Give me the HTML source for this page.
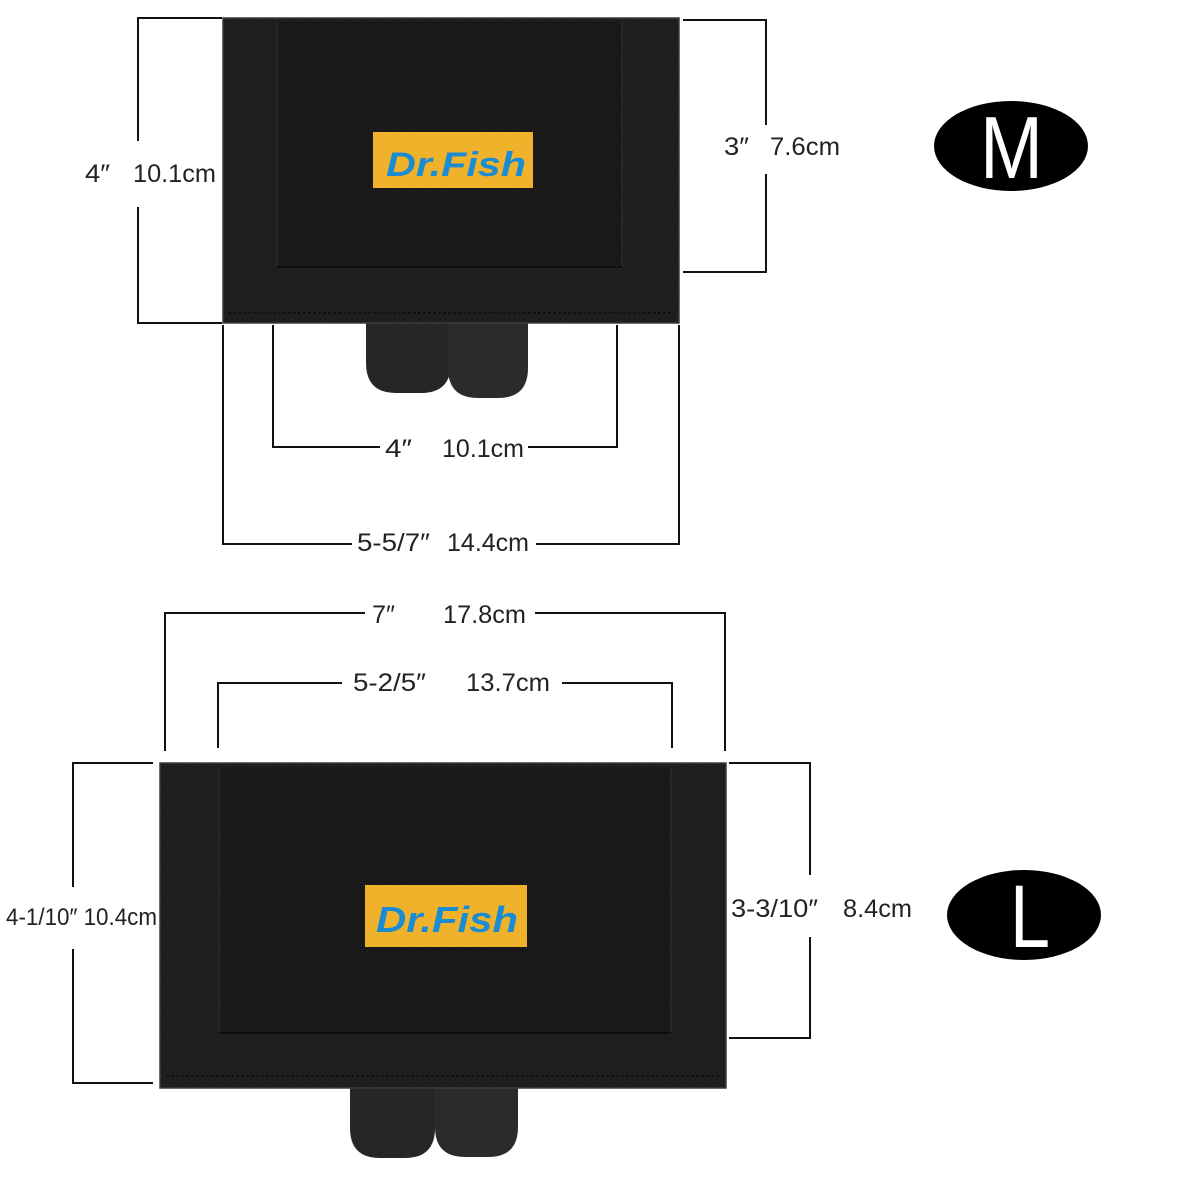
<!DOCTYPE html>
<html><head><meta charset="utf-8"><style>
html,body{margin:0;padding:0;background:#fff;}
svg{display:block;}
text{font-family:"Liberation Sans","DejaVu Sans",sans-serif;}
</style></head><body>
<svg width="1200" height="1200" viewBox="0 0 1200 1200" xmlns="http://www.w3.org/2000/svg">
<defs>
<pattern id="fab" width="4" height="4" patternUnits="userSpaceOnUse" patternTransform="rotate(40)">
<rect width="4" height="4" fill="none"/>
<line x1="0" y1="0" x2="0" y2="4" stroke="#3a3a3a" stroke-width="1" opacity="0.35"/>
</pattern>
</defs>
<rect width="1200" height="1200" fill="#fff"/>

<!-- ===== M bag ===== -->
<g>
<path d="M366,318 L451,318 L451,363 Q451,393 421,393 L396,393 Q366,393 366,363 Z" fill="#262626"/>
<path d="M448,318 L528,318 L528,368 Q528,398 498,398 L478,398 Q448,398 448,368 Z" fill="#2b2b2b"/>
<rect x="223" y="18" width="456" height="305" fill="#1d1d1d" stroke="#3c3c3c" stroke-width="1.5"/>
<rect x="277" y="22" width="345" height="245" fill="#181818"/>
<line x1="277" y1="22" x2="277" y2="267" stroke="#262626" stroke-width="2"/>
<line x1="622" y1="22" x2="622" y2="267" stroke="#262626" stroke-width="2"/>
<line x1="277" y1="267" x2="622" y2="267" stroke="#0c0c0c" stroke-width="2"/>
<line x1="228" y1="313" x2="674" y2="313" stroke="#0d0d0d" stroke-width="1.5" stroke-dasharray="3 2"/>
<rect x="223" y="18" width="456" height="305" fill="url(#fab)"/>
<rect x="373" y="132" width="160" height="56" fill="#f0b22b"/>
<text x="386" y="176" font-size="34" font-weight="bold" font-style="italic" fill="#1a8cd3" textLength="140" lengthAdjust="spacingAndGlyphs">Dr.Fish</text>
</g>

<!-- ===== M dimensions ===== -->
<g stroke="#111" stroke-width="2" fill="none">
<polyline points="222,18 138,18 138,141"/>
<polyline points="138,207 138,323 222,323"/>
<polyline points="683,20 766,20 766,125"/>
<polyline points="766,174 766,272 683,272"/>
<polyline points="273,325 273,447 380,447"/>
<polyline points="528,447 617,447 617,325"/>
<polyline points="223,325 223,544 352,544"/>
<polyline points="536,544 679,544 679,325"/>
</g>
<g fill="#222" font-size="25">
<text x="85" y="182" textLength="25" lengthAdjust="spacingAndGlyphs">4″</text>
<text x="133" y="182" textLength="83" lengthAdjust="spacingAndGlyphs">10.1cm</text>
<text x="724" y="155" textLength="25" lengthAdjust="spacingAndGlyphs">3″</text>
<text x="770" y="155" textLength="70" lengthAdjust="spacingAndGlyphs">7.6cm</text>
<text x="385" y="457" textLength="27" lengthAdjust="spacingAndGlyphs">4″</text>
<text x="442" y="457" textLength="82" lengthAdjust="spacingAndGlyphs">10.1cm</text>
<text x="357" y="551" textLength="73" lengthAdjust="spacingAndGlyphs">5-5/7″</text>
<text x="447" y="551" textLength="82" lengthAdjust="spacingAndGlyphs">14.4cm</text>
</g>
<ellipse cx="1011" cy="146" rx="77" ry="45" fill="#000"/>
<text x="980" y="178" font-size="88" fill="#fff" textLength="63" lengthAdjust="spacingAndGlyphs">M</text>

<!-- ===== L dimensions ===== -->
<g stroke="#111" stroke-width="2" fill="none">
<polyline points="165,751 165,613 365,613"/>
<polyline points="535,613 725,613 725,751"/>
<polyline points="218,748 218,683 342,683"/>
<polyline points="562,683 672,683 672,748"/>
<polyline points="153,763 73,763 73,887"/>
<polyline points="73,949 73,1083 153,1083"/>
<polyline points="729,763 810,763 810,875"/>
<polyline points="810,937 810,1038 729,1038"/>
</g>
<g fill="#222" font-size="25">
<text x="372" y="623" textLength="23" lengthAdjust="spacingAndGlyphs">7″</text>
<text x="443" y="623" textLength="83" lengthAdjust="spacingAndGlyphs">17.8cm</text>
<text x="353" y="691" textLength="73" lengthAdjust="spacingAndGlyphs">5-2/5″</text>
<text x="466" y="691" textLength="84" lengthAdjust="spacingAndGlyphs">13.7cm</text>
<text x="6" y="925" font-size="24" textLength="151" lengthAdjust="spacingAndGlyphs">4-1/10″ 10.4cm</text>
<text x="731" y="917" textLength="87" lengthAdjust="spacingAndGlyphs">3-3/10″</text>
<text x="843" y="917" textLength="69" lengthAdjust="spacingAndGlyphs">8.4cm</text>
</g>
<ellipse cx="1024" cy="915" rx="77" ry="45" fill="#000"/>
<text x="1010" y="947" font-size="89" fill="#fff" textLength="40" lengthAdjust="spacingAndGlyphs">L</text>

<!-- ===== L bag ===== -->
<g>
<path d="M350,1083 L435,1083 L435,1128 Q435,1158 405,1158 L380,1158 Q350,1158 350,1128 Z" fill="#262626"/>
<path d="M435,1083 L518,1083 L518,1127 Q518,1157 488,1157 L465,1157 Q435,1157 435,1127 Z" fill="#2b2b2b"/>
<rect x="160" y="763" width="566" height="325" fill="#1d1d1d" stroke="#3c3c3c" stroke-width="1.5"/>
<rect x="219" y="767" width="452" height="266" fill="#181818"/>
<line x1="219" y1="767" x2="219" y2="1033" stroke="#262626" stroke-width="2"/>
<line x1="671" y1="767" x2="671" y2="1033" stroke="#262626" stroke-width="2"/>
<line x1="219" y1="1033" x2="671" y2="1033" stroke="#0c0c0c" stroke-width="2"/>
<line x1="166" y1="1076" x2="721" y2="1076" stroke="#0d0d0d" stroke-width="1.5" stroke-dasharray="3 2"/>
<rect x="160" y="763" width="566" height="325" fill="url(#fab)"/>
<rect x="365" y="885" width="162" height="62" fill="#f0b22b"/>
<text x="376" y="932" font-size="36" font-weight="bold" font-style="italic" fill="#1a8cd3" textLength="142" lengthAdjust="spacingAndGlyphs">Dr.Fish</text>
</g>
</svg>
</body></html>
